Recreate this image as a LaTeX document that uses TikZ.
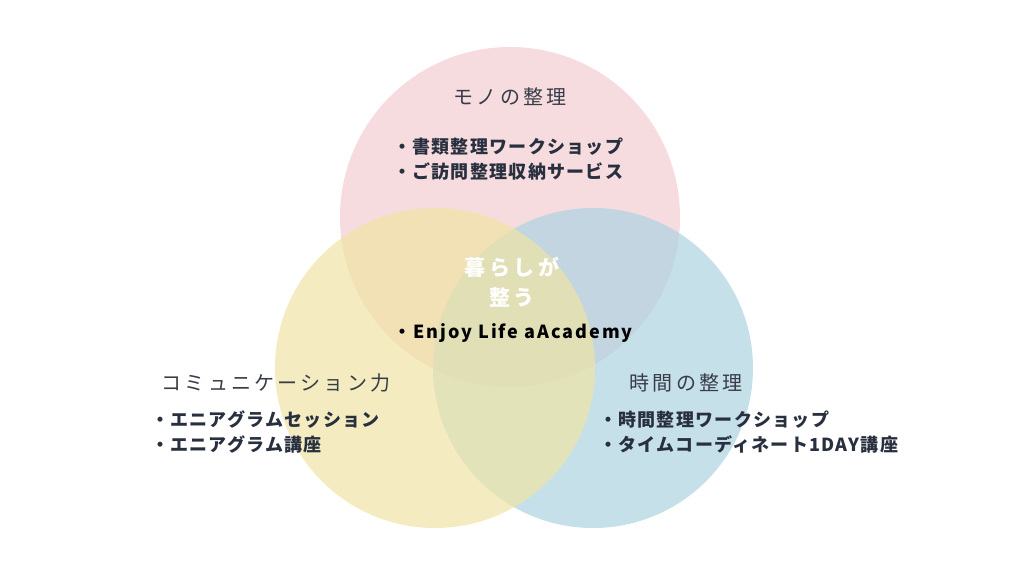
\documentclass[tikz,border=0pt]{standalone}
\usepackage{fontspec}
\setmainfont{Noto Sans CJK JP}
\newfontfamily\headfont[LetterSpace=16]{Noto Sans CJK JP}
\newfontfamily\itemfont[LetterSpace=7]{Noto Sans CJK JP}
\newfontfamily\latinfont[LetterSpace=11]{Noto Sans CJK JP}
\definecolor{mono}{RGB}{246,220,222}
\definecolor{jikan}{RGB}{174,211,225}
\definecolor{komyu}{RGB}{239,228,165}
\definecolor{headgray}{RGB}{55,60,72}
\definecolor{itemnavy}{RGB}{40,47,62}
\begin{document}
\begin{tikzpicture}[
            x=1pt,y=-1pt,
            every node/.style={inner sep=0pt},
            head/.style={font=\headfont\fontsize{20}{24}\selectfont,text=headgray},
            items/.style={font=\itemfont\bfseries\fontsize{18}{25}\selectfont,text=itemnavy,align=left,anchor=west}
        ]
            \useasboundingbox (0,0) rectangle (1024,576);
            % three circles
            \fill [mono] (510,217) circle (170pt);
            \fill [jikan,fill opacity=0.7] (593,368) circle (160pt);
            \fill [komyu,fill opacity=0.7] (435,368) circle (160pt);

            \node [head] (monohead) at (510,97) {モノの整理};
            \node [items] (monoitems) at (393,159) {・書類整理ワークショップ\\・ご訪問整理収納サービス};

            \node [head] (komyuhead) at (276,383) {コミュニケーション力};
            \node [items] (komyuitems) at (151,432) {・エニアグラムセッション\\・エニアグラム講座};

            \node [head] (jikanhead) at (686,383) {時間の整理};
            \node [items] (jikanitems) at (599,432) {・時間整理ワークショップ\\・タイムコーディネート1DAY講座};

            \node [font=\headfont\bfseries\fontsize{21}{30}\selectfont,text=white,align=center] (center) at (512,282) {暮らしが\\整う};
            \node [items,font=\latinfont\bfseries\fontsize{18}{25}\selectfont,text=black] (enjoy) at (393,333) {・Enjoy Life aAcademy};
        \end{tikzpicture}
\end{document}
